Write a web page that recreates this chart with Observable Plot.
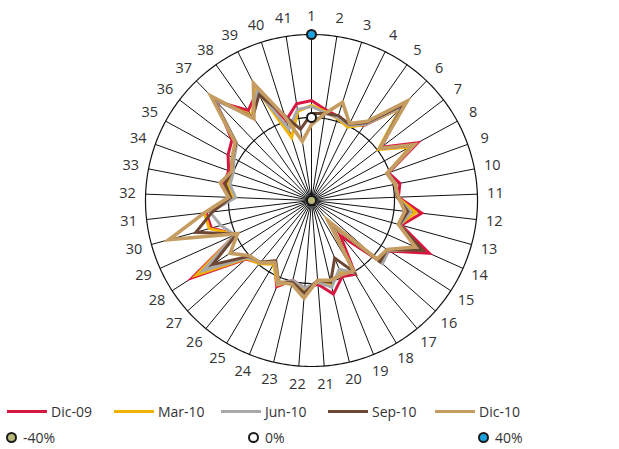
<!DOCTYPE html>
<html>
<head>
<meta charset="utf-8">
<script src="https://cdn.jsdelivr.net/npm/d3@7"></script>
<script src="https://cdn.jsdelivr.net/npm/@observablehq/plot@0.6"></script>
<style>
  html, body { margin: 0; padding: 0; background: #fff; }
  #wrap { position: relative; width: 619px; height: 449px; font-family: "Open Sans", sans-serif; }
  #chart svg { display: block; }
  .leg { position: absolute; left: 0; height: 18px; display: flex; align-items: center; font-size: 14px; color: #333; }
  .item { display: flex; align-items: center; flex: none; }
  .sw { display: inline-block; width: 40px; height: 3px; margin-right: 4px; }
  .dot { display: inline-block; width: 7px; height: 7px; border: 2.5px solid #1a1a1a; border-radius: 50%; margin-right: 6px; }
</style>
</head>
<body>
<div id="wrap">
  <div id="chart"></div>
  <div id="leg1" class="leg" style="top:402px"></div>
  <div id="leg2" class="leg" style="top:428px"></div>
</div>
<script>
// ---- data ----
const axisLabels = ["1","2","3","4","5","6","7","8","9","10","11","12","13","14","15","16","17","18","19","20","21","22","23","24","25","26","27","28","29","30","31","32","33","34","35","36","37","38","39","40","41"];
const seriesNames = ["Dic-09", "Mar-10", "Jun-10", "Sep-10", "Dic-10"];
const seriesColors = ["#d7173f", "#f2b300", "#a8a8a8", "#6e4634", "#c59c62"];

const dic09 = [8.2, 4.3, 2.4, 0.5, 4.3, 21.7, 2.4, 18.3, -0.5, 3.4, 1.9, 13.5, 4.8, 22.2, 4.8, 3.9, -18.3, 1.4, -0.5, 6.3, 0.5, 2.4, -0.5, 4.8, -5.3, -1.0, 2.4, 28.4, 0.0, 10.1, 11.1, -1.4, 2.9, 2.4, 5.8, 8.2, 26.5, 13.0, 18.8, 0.5, 7.2];
const mar10 = [5.8, 3.4, 1.4, -0.5, 4.8, 21.7, 0.5, 14.0, -1.0, 1.4, 1.4, 10.6, 3.9, 16.9, 4.3, 4.3, -24.6, 0.5, -3.4, 1.9, -0.5, 2.9, 0.0, 3.9, -4.3, -0.5, 1.9, 26.0, 0.0, 11.1, 12.0, -1.9, 1.4, 1.0, 3.4, 6.3, 28.0, 10.1, 20.2, -8.2, 3.4];
const jun10 = [5.3, 2.9, 1.9, 0.5, 4.8, 22.6, 1.4, 15.4, -1.0, 1.4, 1.4, 8.2, 4.3, 17.3, 4.3, 5.8, -25.5, 0.5, -4.3, 2.9, -0.5, 2.4, -0.5, 3.4, -5.8, -1.4, 1.4, 22.2, 0.5, 5.3, 9.2, -3.4, 0.0, 0.0, 2.4, 5.3, 27.5, 9.2, 18.8, -3.9, 4.3];
const sep10 = [1.9, 2.4, 2.9, 1.0, 5.8, 24.1, 1.4, 15.9, -1.4, 1.0, 1.4, 6.7, 3.9, 18.8, 3.4, 4.3, -26.5, 0.0, -10.1, 0.5, -1.4, 4.8, 0.5, 2.4, -6.3, -1.4, 0.5, 16.9, -0.5, 17.8, 8.2, -1.0, 2.4, 1.0, 3.4, 5.8, 28.9, 9.2, 16.9, 2.9, -5.3];
const dic10 = [-3.4, 2.4, 9.6, 1.4, 6.7, 26.5, 1.4, 16.4, -1.4, 1.0, 1.9, 5.3, 3.4, 14.9, 3.4, 2.4, -27.5, -0.5, -1.4, -0.5, -1.4, 7.2, 1.4, 2.4, -5.3, -1.0, 0.0, 6.7, -1.0, 31.3, 12.0, 0.0, 4.8, 1.0, 3.4, 6.3, 29.9, 8.2, 23.1, 2.4, -11.1];

const scaleMarks = [-40, 0, 40];
const scaleLabels = ["-40%", "0%", "40%"];
const markerColors = ["#b8b87a", "#ffffff", "#1aa3e0"];
const ringValues = [0, 40];

// ---- geometry helpers ----
const seriesValues = [dic09, mar10, jun10, sep10, dic10];
const N = axisLabels.length;
const VMIN = -40, VMAX = 40, LABEL_V = 48.7;
const ang = i => i * 2 * Math.PI / N;
const rad = v => (v - VMIN) / (VMAX - VMIN);
const px = (i, v) => rad(v) * Math.sin(ang(i));
const py = (i, v) => rad(v) * Math.cos(ang(i));

const W = 619, H = 398, PX = 166, CX = 311, CY = 200;

const ringPts = ringValues.flatMap(v => d3.range(0, 360).map(a => ({v, a: a * Math.PI / 180})));

const marks = [
  Plot.link(axisLabels, {
    x1: (d, i) => px(i, VMIN), y1: (d, i) => py(i, VMIN),
    x2: (d, i) => px(i, VMAX), y2: (d, i) => py(i, VMAX),
    stroke: "#111", strokeWidth: 1
  }),
  Plot.line(ringPts, {
    x: d => rad(d.v) * Math.sin(d.a), y: d => rad(d.v) * Math.cos(d.a),
    z: "v", curve: "linear-closed", stroke: "#111", strokeWidth: 1.2
  }),
  ...seriesValues.map((vals, k) => Plot.line(vals, {
    x: (v, i) => px(i, v), y: (v, i) => py(i, v),
    curve: "linear-closed", stroke: seriesColors[k],
    strokeWidth: k === 4 ? 3.6 : 3, strokeLinejoin: "miter", strokeMiterlimit: 8
  })),
  ...scaleMarks.map((v, k) => Plot.dot([v], {
    x: d => px(0, d), y: d => py(0, d), r: 4.5,
    fill: markerColors[k], stroke: "#1a1a1a", strokeWidth: 2
  })),
  Plot.text(axisLabels, {
    x: (d, i) => px(i, LABEL_V), y: (d, i) => py(i, LABEL_V),
    text: d => d, fontSize: 14.5, fill: "#333", textAnchor: "middle", lineAnchor: "middle"
  })
];

const chart = Plot.plot({
  width: W, height: H, margin: 0,
  x: {axis: null, domain: [-CX / PX, (W - CX) / PX], range: [0, W]},
  y: {axis: null, domain: [-(H - CY) / PX, CY / PX], range: [H, 0]},
  style: {fontFamily: "'Open Sans', sans-serif", background: "#fff", overflow: "visible"},
  marks
});
document.getElementById("chart").appendChild(chart);

// ---- legend ----
const leg1 = document.getElementById("leg1");
seriesNames.forEach((s, k) => {
  const it = document.createElement("div");
  it.className = "item";
  it.style.width = "107px";
  if (k === 0) it.style.marginLeft = "7px";
  const sw = document.createElement("span");
  sw.className = "sw";
  sw.style.background = seriesColors[k];
  it.appendChild(sw);
  it.appendChild(document.createTextNode(s));
  leg1.appendChild(it);
});
const leg2 = document.getElementById("leg2");
const widths2 = [242, 230, 120];
scaleLabels.forEach((s, k) => {
  const it = document.createElement("div");
  it.className = "item";
  it.style.width = widths2[k] + "px";
  if (k === 0) it.style.marginLeft = "6px";
  const sw = document.createElement("span");
  sw.className = "dot";
  sw.style.background = markerColors[k];
  it.appendChild(sw);
  it.appendChild(document.createTextNode(s));
  leg2.appendChild(it);
});
</script>
</body>
</html>
